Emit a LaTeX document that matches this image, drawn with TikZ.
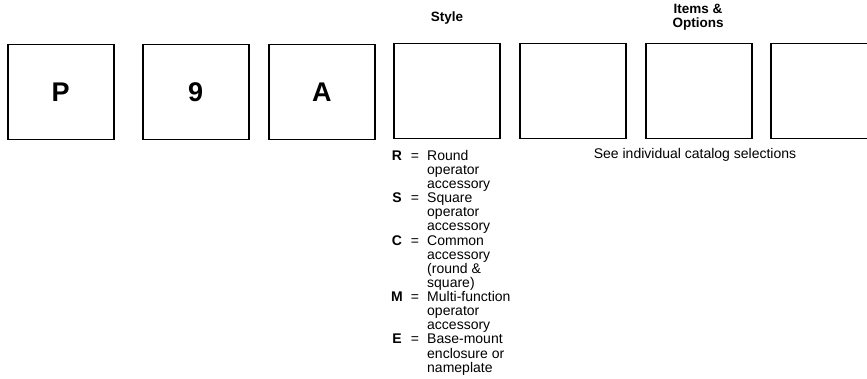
\documentclass[tikz,border=0pt]{standalone}
\usepackage{fontspec}
\setmainfont{Liberation Sans}
\begin{document}
\begin{tikzpicture}[x=1pt,y=-1pt,
  codebox/.style={draw, line width=1.5pt, minimum width=106pt, minimum height=95pt, inner sep=0pt, anchor=north west, font=\fontsize{27}{29}\selectfont\bfseries},
  head/.style={font=\fontsize{13.5}{15}\selectfont\bfseries, align=center},
  key/.style={font=\fontsize{14}{14.1}\selectfont\bfseries, inner sep=0pt, anchor=base},
  eqs/.style={font=\fontsize{14}{14.1}\selectfont, inner sep=0pt, anchor=base},
  desc/.style={font=\fontsize{14}{14.1}\selectfont, inner sep=0pt, anchor=base west},
  note/.style={font=\fontsize{14}{15}\selectfont, inner sep=0pt}]
\useasboundingbox (0,0) rectangle (867,379);
\clip (0,0) rectangle (867,379);
\newcommand{\lgd}[1]{\begin{tabular}[t]{@{}l@{}}#1\end{tabular}}
\node[codebox] (b1) at (7,44) {P};
\node[codebox] (b2) at (142,44) {9};
\node[codebox] (b3) at (268,44) {A};
\node[codebox] (b4) at (393,43) {};
\node[codebox] (b5) at (519,43) {};
\node[codebox] (b6) at (645,43) {};
\node[codebox] (b7) at (770,43) {};
\node[head] (hstyle) at (447,18) {Style};
\node[head] (hitems) at (698,17) {Items \&\\[-1pt]Options};
\node[note] (see) at (695,155) {See individual catalog selections};
% legend
\node[key] (kR) at (397,160.5) {R};
\node[eqs] (eR) at (415,160.5) {=};
\node[desc] (dR) at (427,160.5) {\lgd{Round\\operator\\accessory}};
\node[key] (kS) at (397,202.8) {S};
\node[eqs] (eS) at (415,202.8) {=};
\node[desc] (dS) at (427,202.8) {\lgd{Square\\operator\\accessory}};
\node[key] (kC) at (397,245.1) {C};
\node[eqs] (eC) at (415,245.1) {=};
\node[desc] (dC) at (427,245.1) {\lgd{Common\\accessory\\(round \&\\square)}};
\node[key] (kM) at (397,301.5) {M};
\node[eqs] (eM) at (415,301.5) {=};
\node[desc] (dM) at (427,301.5) {\lgd{Multi-function\\operator\\accessory}};
\node[key] (kE) at (397,343.8) {E};
\node[eqs] (eE) at (415,343.8) {=};
\node[desc] (dE) at (427,343.8) {\lgd{Base-mount\\enclosure or\\nameplate}};
\end{tikzpicture}
\end{document}
